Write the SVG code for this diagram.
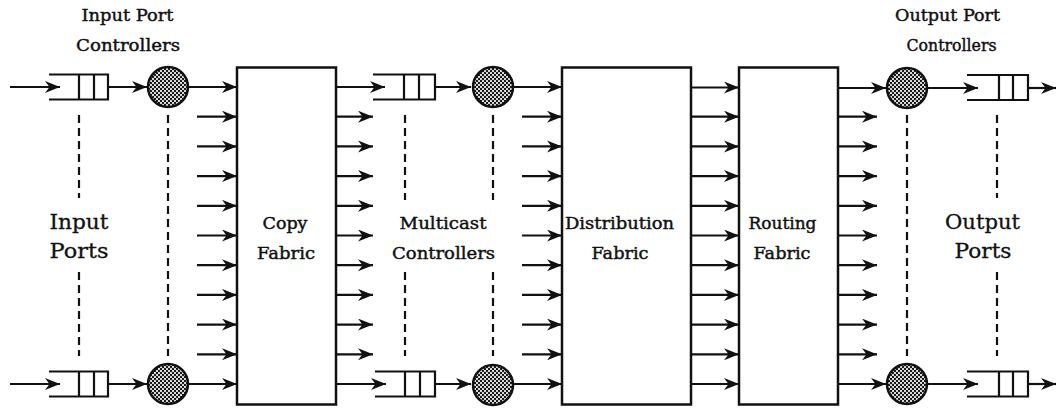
<svg xmlns="http://www.w3.org/2000/svg" width="1057" height="408" viewBox="0 0 1057 408">
<style>
  .ln { stroke:#111; stroke-width:2; fill:none; }
  .ar { stroke:#111; stroke-width:2.2; fill:none; marker-end:url(#ah); }
  .box { stroke:#111; stroke-width:2.5; fill:#fff; }
  .q { stroke:#111; stroke-width:2.2; fill:none; }
  .pc { stroke:#111; stroke-width:2.5; fill:url(#stip); }
  .dash { stroke:#111; stroke-width:2.2; fill:none; stroke-dasharray:8 5; }
  .t { font-family:"DejaVu Serif","Liberation Serif",serif; font-size:17px; fill:#111; stroke:#111; stroke-width:0.45; text-anchor:middle; }
  .tb { font-family:"DejaVu Serif","Liberation Serif",serif; font-size:21px; fill:#111; stroke:#111; stroke-width:0.3; text-anchor:middle; }
</style>
<defs>
  <marker id="ah" markerUnits="userSpaceOnUse" markerWidth="16" markerHeight="13" refX="15" refY="6" orient="auto">
    <path d="M0,0 L15,6 L0,12 L4.5,6 Z" fill="#111"/>
  </marker>
  <pattern id="stip" width="4" height="4" patternUnits="userSpaceOnUse">
    <rect width="4" height="4" fill="#d8d8d8"/>
    <rect width="2" height="2" fill="#1a1a1a"/>
    <rect x="2" y="2" width="2" height="2" fill="#1a1a1a"/>
  </pattern>
</defs>

<g id="labels">
  <text class="t" x="127.5" y="21" textLength="92" lengthAdjust="spacingAndGlyphs">Input Port</text>
  <text class="t" x="128" y="51" textLength="104" lengthAdjust="spacingAndGlyphs">Controllers</text>
  <text class="t" x="947.5" y="21" textLength="105" lengthAdjust="spacingAndGlyphs">Output Port</text>
  <text class="t" x="951.5" y="51" textLength="90" lengthAdjust="spacingAndGlyphs">Controllers</text>
  <text class="tb" x="79" y="229" textLength="59" lengthAdjust="spacingAndGlyphs">Input</text>
  <text class="tb" x="79" y="258" textLength="59" lengthAdjust="spacingAndGlyphs">Ports</text>
  <text class="tb" x="982.5" y="229" textLength="75" lengthAdjust="spacingAndGlyphs">Output</text>
  <text class="tb" x="983" y="258" textLength="57" lengthAdjust="spacingAndGlyphs">Ports</text>
  <text class="t" x="443" y="229" textLength="87" lengthAdjust="spacingAndGlyphs">Multicast</text>
  <text class="t" x="443.5" y="259" textLength="103" lengthAdjust="spacingAndGlyphs">Controllers</text>
</g>

<g id="dashed-lines">
  <path class="dash" d="M79,115 V198 M79,272 V356"/>
  <path class="dash" d="M168,115 V356"/>
  <path class="dash" d="M405,115 V200 M405,272 V356"/>
  <path class="dash" d="M493,115 V200 M493,272 V356"/>
  <path class="dash" d="M907,115 V356"/>
  <path class="dash" d="M997,115 V198 M997,272 V356"/>
</g>

<g id="input-queue-top">
  <path class="q" d="M49,74.5 H108 V99.5 H49 M79,74.5 V99.5 M94,74.5 V99.5"/>
</g>
<g id="input-queue-bottom">
  <path class="q" d="M49,371.5 H108 V396.5 H49 M79,371.5 V396.5 M94,371.5 V396.5"/>
</g>
<g id="input-port-controller-top"><circle class="pc" cx="168" cy="87" r="20"/></g>
<g id="input-port-controller-bottom"><circle class="pc" cx="168" cy="384" r="20"/></g>

<g id="copy-fabric">
  <rect class="box" x="237" y="67.5" width="99" height="337"/>
  <text class="t" x="285" y="229" textLength="45" lengthAdjust="spacingAndGlyphs">Copy</text>
  <text class="t" x="286" y="259" textLength="58" lengthAdjust="spacingAndGlyphs">Fabric</text>
</g>

<g id="multicast-queue-top">
  <path class="q" d="M373,74.5 H435 V99.5 H373 M404,74.5 V99.5 M419,74.5 V99.5"/>
</g>
<g id="multicast-queue-bottom">
  <path class="q" d="M375,371.5 H435 V396.5 H375 M405,371.5 V396.5 M420,371.5 V396.5"/>
</g>
<g id="multicast-controller-top"><circle class="pc" cx="493" cy="87" r="20"/></g>
<g id="multicast-controller-bottom"><circle class="pc" cx="493" cy="385" r="20"/></g>

<g id="distribution-fabric">
  <rect class="box" x="562" y="67.5" width="129" height="337"/>
  <text class="t" x="619.5" y="229" textLength="109" lengthAdjust="spacingAndGlyphs">Distribution</text>
  <text class="t" x="620" y="259" textLength="57" lengthAdjust="spacingAndGlyphs">Fabric</text>
</g>

<g id="routing-fabric">
  <rect class="box" x="739" y="67.5" width="99" height="337"/>
  <text class="t" x="782.5" y="229" textLength="68" lengthAdjust="spacingAndGlyphs">Routing</text>
  <text class="t" x="782" y="259" textLength="57" lengthAdjust="spacingAndGlyphs">Fabric</text>
</g>

<g id="output-port-controller-top"><circle class="pc" cx="907" cy="88" r="20"/></g>
<g id="output-port-controller-bottom"><circle class="pc" cx="907" cy="384" r="20"/></g>
<g id="output-queue-top">
  <path class="q" d="M967,75 H1028 V100 H967 M999,75 V100 M1013,75 V100"/>
</g>
<g id="output-queue-bottom">
  <path class="q" d="M967,371.5 H1028 V396.5 H967 M999,371.5 V396.5 M1013,371.5 V396.5"/>
</g>

<g id="connectors">
  <path class="ar" d="M10,87 H60"/>
  <path class="ar" d="M10,384 H60"/>
  <path class="ar" d="M108,87 H147"/>
  <path class="ar" d="M108,384 H147"/>
  <path class="ar" d="M188,87 H237"/>
  <path class="ar" d="M188,384 H237"/>
  <path class="ar" d="M197,116.7 H237"/>
  <path class="ar" d="M197,146.4 H237"/>
  <path class="ar" d="M197,176.1 H237"/>
  <path class="ar" d="M197,205.8 H237"/>
  <path class="ar" d="M197,235.5 H237"/>
  <path class="ar" d="M197,265.2 H237"/>
  <path class="ar" d="M197,294.9 H237"/>
  <path class="ar" d="M197,324.6 H237"/>
  <path class="ar" d="M197,354.3 H237"/>
  <path class="ar" d="M336,87 H385"/>
  <path class="ar" d="M336,384 H386"/>
  <path class="ar" d="M336,116.7 H373"/>
  <path class="ar" d="M336,146.4 H373"/>
  <path class="ar" d="M336,176.1 H373"/>
  <path class="ar" d="M336,205.8 H373"/>
  <path class="ar" d="M336,235.5 H373"/>
  <path class="ar" d="M336,265.2 H373"/>
  <path class="ar" d="M336,294.9 H373"/>
  <path class="ar" d="M336,324.6 H373"/>
  <path class="ar" d="M336,354.3 H373"/>
  <path class="ar" d="M435,87 H471"/>
  <path class="ar" d="M435,384 H471"/>
  <path class="ar" d="M513,87 H562"/>
  <path class="ar" d="M513,384 H562"/>
  <path class="ar" d="M522,116.7 H562"/>
  <path class="ar" d="M522,146.4 H562"/>
  <path class="ar" d="M522,176.1 H562"/>
  <path class="ar" d="M522,205.8 H562"/>
  <path class="ar" d="M522,235.5 H562"/>
  <path class="ar" d="M522,265.2 H562"/>
  <path class="ar" d="M522,294.9 H562"/>
  <path class="ar" d="M522,324.6 H562"/>
  <path class="ar" d="M522,354.3 H562"/>
  <path class="ar" d="M691,87.5 H739"/>
  <path class="ar" d="M691,116.7 H739"/>
  <path class="ar" d="M691,146.4 H739"/>
  <path class="ar" d="M691,176.1 H739"/>
  <path class="ar" d="M691,205.8 H739"/>
  <path class="ar" d="M691,235.5 H739"/>
  <path class="ar" d="M691,265.2 H739"/>
  <path class="ar" d="M691,294.9 H739"/>
  <path class="ar" d="M691,324.6 H739"/>
  <path class="ar" d="M691,354.3 H739"/>
  <path class="ar" d="M691,384 H739"/>
  <path class="ar" d="M838,88 H886"/>
  <path class="ar" d="M838,384 H886"/>
  <path class="ar" d="M838,116.7 H877"/>
  <path class="ar" d="M838,146.4 H877"/>
  <path class="ar" d="M838,176.1 H877"/>
  <path class="ar" d="M838,205.8 H877"/>
  <path class="ar" d="M838,235.5 H877"/>
  <path class="ar" d="M838,265.2 H877"/>
  <path class="ar" d="M838,294.9 H877"/>
  <path class="ar" d="M838,324.6 H877"/>
  <path class="ar" d="M838,354.3 H877"/>
  <path class="ar" d="M927,88 H978"/>
  <path class="ar" d="M927,384 H978"/>
  <path class="ar" d="M1028,88 H1056"/>
  <path class="ar" d="M1028,384 H1056"/>
</g>
</svg>
